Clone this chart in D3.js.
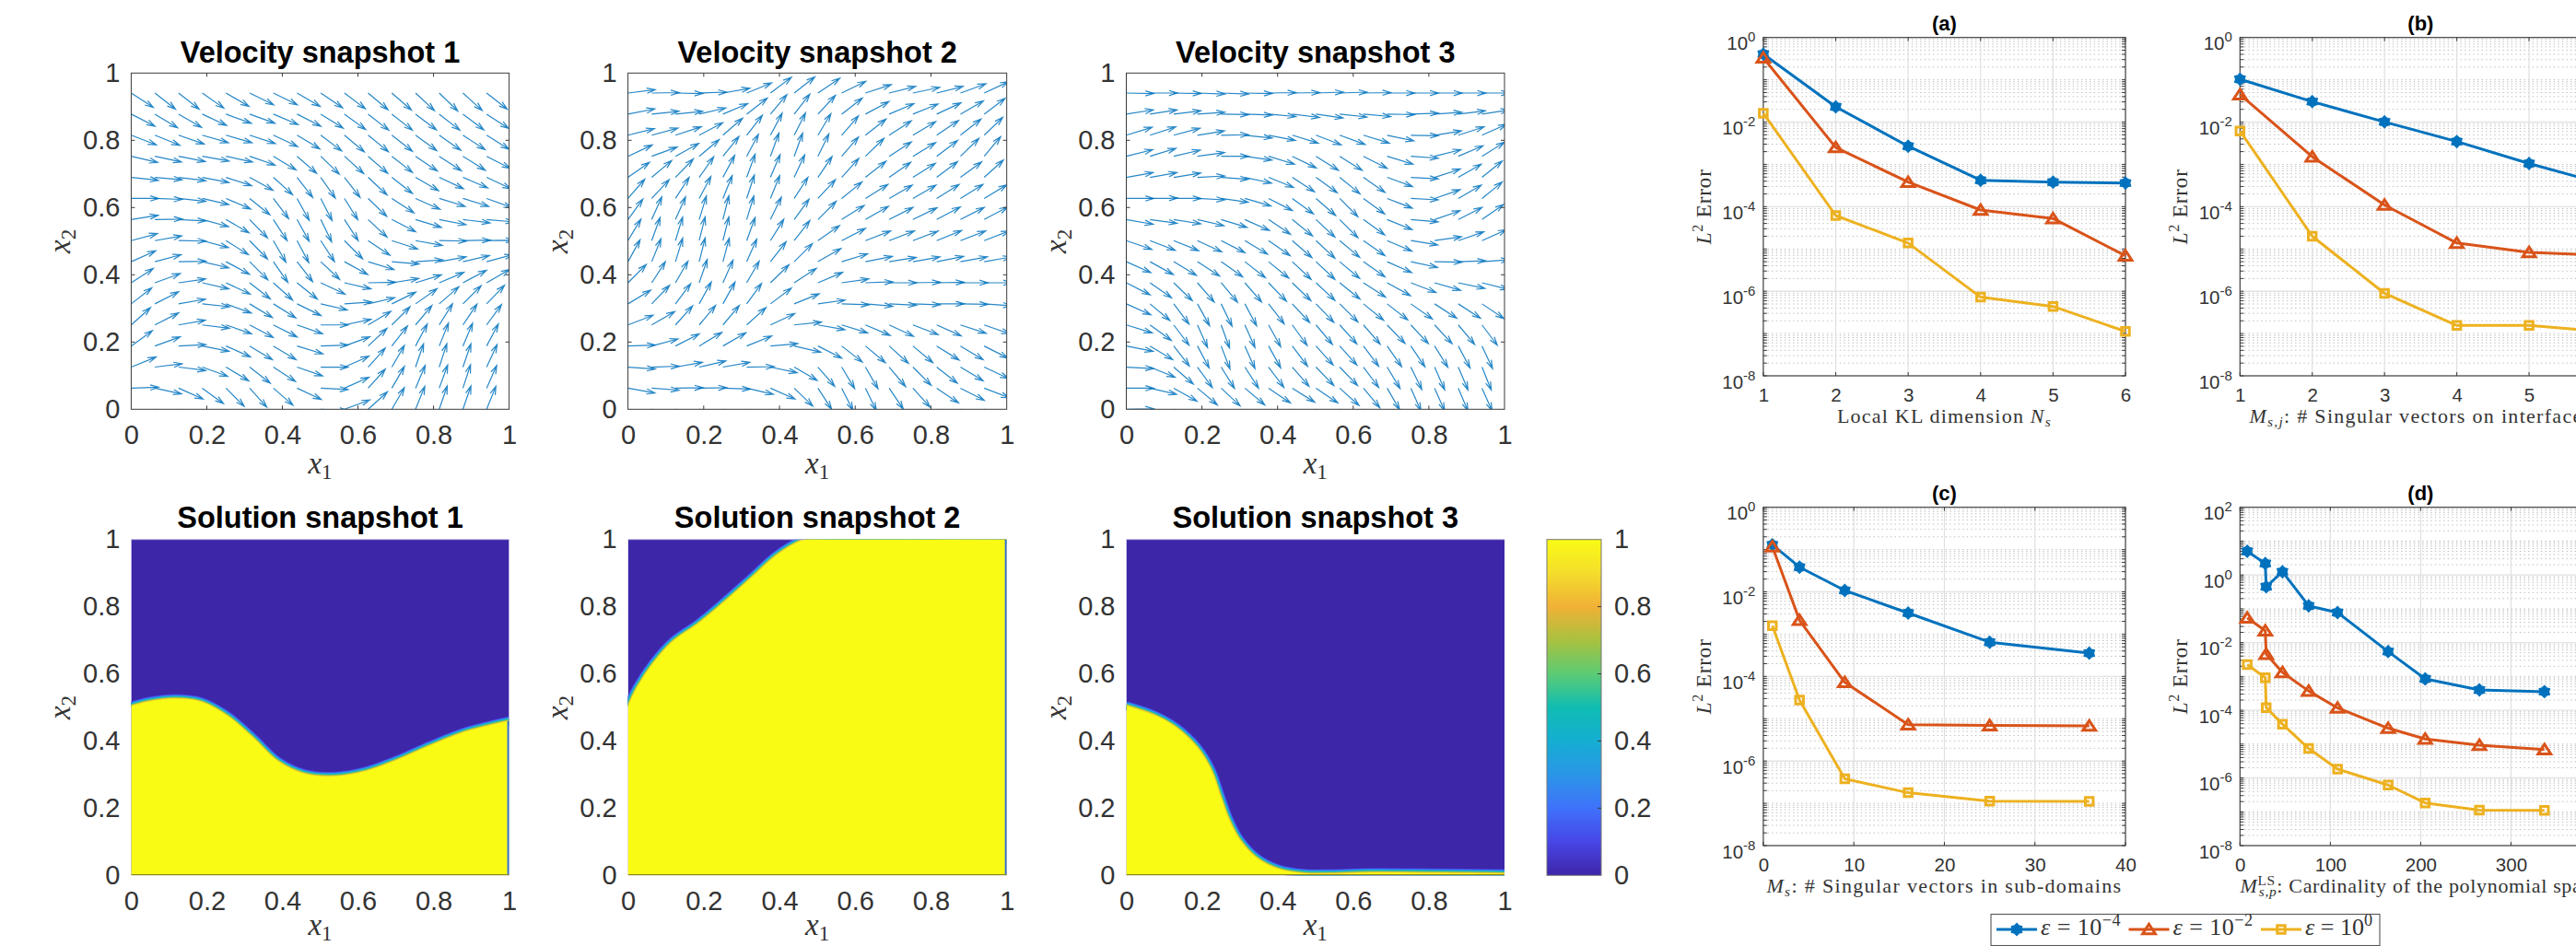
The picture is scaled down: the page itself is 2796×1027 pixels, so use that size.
<!DOCTYPE html>
<html><head><meta charset="utf-8">
<script src="https://cdn.jsdelivr.net/npm/d3@7"></script>
<style>html,body{margin:0;padding:0;background:#fff;overflow:hidden}svg{display:block}</style>
</head><body>
<script>
// ---------- Quiver data: arrow direction in degrees, rows from x2=15/16 down to x2=0
const velocity1Angles = [
[-33,-38,-38,-35,-30,-26,-26,-30,-34,-37,-40,-41,-43,-44,-42,-38],
[-27,-31,-30,-25,-20,-20,-23,-27,-32,-36,-38,-38,-37,-38,-37,-33],
[-21,-22,-19,-16,-16,-18,-25,-31,-37,-40,-39,-38,-36,-35,-33,-32],
[-13,-12,-11,-10,-12,-19,-31,-41,-44,-42,-41,-38,-34,-33,-32,-27],
[-6,-5,-7,-11,-18,-29,-42,-52,-55,-52,-43,-38,-30,-25,-23,-25],
[0,-2,-6,-13,-23,-39,-53,-61,-63,-58,-44,-33,-24,-17,-17,-20],
[9,1,-3,-15,-30,-46,-57,-61,-64,-57,-43,-27,-17,-11,-7,-5],
[15,10,-1,-15,-32,-46,-60,-62,-57,-45,-34,-18,-10,-1,1,1],
[24,15,1,-13,-28,-45,-55,-52,-43,-29,-17,-5,4,10,13,15],
[33,20,8,-13,-25,-38,-42,-39,-25,-13,1,9,17,23,28,30],
[38,27,10,-6,-20,-31,-32,-26,-13,4,13,26,35,41,45,46],
[42,27,10,-7,-19,-28,-27,-19,0,12,31,45,50,58,56,54],
[36,20,3,-11,-24,-31,-31,-17,2,20,43,52,62,68,67,62],
[22,7,-7,-20,-31,-38,-33,-19,0,24,48,60,71,72,71,65],
[2,-12,-24,-36,-45,-48,-41,-25,-3,24,48,60,67,70,72,66],
[-20,-30,-35,-45,-50,-50,-50,-40,-3,20,42,60,68,71,71,68]];
const velocity2Angles = [
[7,1,-1,2,10,22,37,38,34,26,18,14,12,14,20,25],
[11,6,6,13,23,38,50,52,47,38,28,23,22,25,30,37],
[14,15,18,28,41,52,62,63,59,49,38,33,31,34,38,44],
[25,20,29,40,51,62,70,70,64,49,44,33,31,37,44,50],
[35,40,46,55,62,70,67,65,56,48,38,35,32,37,36,42],
[49,47,57,62,68,72,68,57,47,39,32,30,30,32,32,31],
[54,66,66,73,76,73,64,54,45,32,30,27,26,28,27,28],
[59,70,73,76,76,70,58,52,35,27,21,21,21,22,21,21],
[61,68,73,76,75,66,52,45,30,17,11,9,10,11,10,10],
[45,57,60,71,66,60,44,33,23,8,2,0,1,1,0,0],
[31,46,53,61,61,54,37,22,8,-2,-5,-3,-2,0,-1,-4],
[21,30,48,50,50,42,25,6,-10,-17,-23,-25,-21,-24,-18,-19],
[2,15,27,31,30,22,5,-13,-27,-38,-40,-42,-40,-32,-31,-27],
[-4,2,10,13,10,1,-12,-30,-49,-59,-60,-50,-45,-38,-31,-25],
[-10,-4,1,1,-2,-13,-24,-44,-57,-63,-64,-56,-48,-34,-27,-21],
[-10,-10,-10,-10,-15,-30,-40,-50,-60,-65,-65,-60,-50,-40,-30,-20]];
const velocity3Angles = [
[-1,0,-1,-2,-2,-1,1,1,2,2,1,0,0,0,0,0],
[9,9,7,4,-1,-2,-5,-7,-8,-6,-5,-1,2,4,7,9],
[17,18,15,9,1,-6,-11,-17,-21,-20,-17,-12,-1,9,18,24],
[14,17,13,8,0,-8,-17,-26,-32,-32,-27,-17,-4,14,23,32],
[10,10,9,3,-4,-12,-22,-33,-36,-39,-35,-20,-3,18,30,39],
[0,1,0,-3,-8,-16,-27,-36,-41,-45,-36,-21,-3,19,30,39],
[-10,-8,-9,-13,-17,-24,-34,-39,-43,-45,-36,-22,-5,19,27,35],
[-19,-21,-22,-25,-27,-31,-35,-41,-43,-40,-35,-23,-9,8,19,24],
[-24,-29,-31,-33,-35,-38,-39,-43,-43,-40,-35,-24,-12,-1,2,4],
[-27,-35,-44,-49,-50,-49,-46,-44,-43,-39,-33,-29,-21,-16,-12,-14],
[-24,-40,-53,-61,-64,-62,-52,-47,-46,-45,-39,-38,-35,-33,-33,-34],
[-17,-36,-53,-66,-70,-66,-61,-54,-50,-48,-49,-46,-47,-47,-50,-53],
[-11,-31,-52,-62,-69,-66,-61,-53,-48,-48,-53,-55,-56,-58,-62,-65],
[-3,-22,-41,-54,-58,-57,-53,-49,-46,-46,-53,-59,-64,-66,-67,-68],
[0,-13,-29,-40,-43,-40,-34,-32,-34,-42,-50,-60,-66,-66,-67,-66],
[1,-10,-20,-30,-30,-30,-30,-25,-25,-30,-40,-50,-60,-65,-65,-65]];
const velocityPanels = [velocity1Angles, velocity2Angles, velocity3Angles];
const velocityTitles = ["Velocity snapshot 1","Velocity snapshot 2","Velocity snapshot 3"];

// ---------- Interface curves of the solution snapshots [x1, x2]
const solution1Front = [[0,.504],[.048,.518],[.116,.526],[.184,.517],[.253,.476],[.32,.412],[.389,.339],[.457,.303],[.54,.295],[.62,.31],[.7,.342],[.79,.386],[.88,.426],[1,.46]];
const solution2Front = [[0,.504],[.024,.559],[.067,.632],[.118,.696],[.186,.75],[.254,.814],[.323,.883],[.391,.952],[.45,.993],[.468,1],[1,1]];
const solution3Front = [[0,.505],[.076,.476],[.132,.44],[.188,.38],[.225,.312],[.248,.239],[.272,.165],[.3,.106],[.346,.051],[.402,.019],[.467,.006],[.541,.005],[.634,.008],[.82,.007],[1,.005]];
const solutionFronts = [solution1Front, solution2Front, solution3Front];
const solutionTitles = ["Solution snapshot 1","Solution snapshot 2","Solution snapshot 3"];

// ---------- Colour map
const parulaStops  = [0,.1,.2,.3,.4,.5,.6,.7,.8,.9,1];
const parulaColors = ["#3e26a8","#4746e6","#3f72fb","#2a96e6","#15aed2","#10bdb2","#5ccb74","#a9c13f","#f0b136","#f4dd2c","#f9fb15"];

// ---------- Error curves: log10 of L2 error
const xA = [1,2,3,4,5,6];
const aBlue=[-.392,-1.64,-2.57,-3.376,-3.42,-3.44], aRed=[-.48,-2.6,-3.42,-4.08,-4.28,-5.16], aYellow=[-1.79,-4.21,-4.86,-6.14,-6.36,-6.95];
const xB = [1,2,3,4,5,6];
const bBlue=[-.987,-1.517,-1.996,-2.46,-2.98,-3.45], bRed=[-1.35,-2.82,-3.96,-4.86,-5.08,-5.15], bYellow=[-2.21,-4.7,-6.05,-6.81,-6.81,-6.95];
const xC = [1,4,9,16,25,36];
const cBlue=[-.886,-1.416,-1.967,-2.5,-3.19,-3.45], cRed=[-.93,-2.67,-4.14,-5.14,-5.16,-5.17], cYellow=[-2.8,-4.56,-6.42,-6.75,-6.95,-6.955];
const xD = [8,28,29,47,76,108,164,205,265,337];
const dBlue=[.7,.34,-.35,.094,-.913,-1.11,-2.265,-3.07,-3.4,-3.45], dRed=[-1.27,-1.65,-2.34,-2.88,-3.43,-3.93,-4.53,-4.85,-5.03,-5.16], dYellow=[-2.65,-3.04,-3.92,-4.41,-5.13,-5.74,-6.21,-6.74,-6.95,-6.96];

const errorTitles=["(a)","(b)","(c)","(d)"];
const xTicksA=[1,2,3,4,5,6], xTicksC=[0,10,20,30,40], xTicksD=[0,100,200,300,400];
const unitTicks=[0,.2,.4,.6,.8,1];
const legendExponents=["−4","−2","0"];
const seriesColors=["#0072BD","#D95319","#EDB120"];

// ---------- Layout
const W=2796,H=1027;
const svg=d3.select("body").append("svg").attr("width",W).attr("height",H).attr("viewBox",`0 0 ${W} ${H}`);
const defs=svg.append("defs");
const SANS="'Liberation Sans',Arial,sans-serif", SERIF="'Liberation Serif','Times New Roman',serif";
const INK="#333333", AX="#3a3a3a";
let uid=0;

function mathText(t,parts,size){
  t.attr("font-family",SERIF).attr("font-size",size).attr("fill",INK);
  let base=0;
  parts.forEach(([s,style,dx])=>{
    const sup=style==="sup", sub=style&&style.startsWith("sub");
    const target= sup? -size*.38 : sub? size*.18 : 0;
    const ts=t.append("tspan").text(s)
      .attr("dy",target-base)
      .attr("font-size",(sup||sub)?size*.7:size)
      .attr("font-style",(style==="i"||style==="subi")?"italic":"normal");
    if(dx) ts.attr("dx",dx);
    base=target;
  });
}
function fitWidth(t,target){
  const n=t.text().length, len=t.node().getComputedTextLength();
  t.attr("letter-spacing",((target-len)/n).toFixed(3));
}
function styleAxis(g,size){
  g.selectAll(".domain").remove();
  g.selectAll(".tick line").attr("stroke",AX).attr("stroke-width",1);
  g.selectAll("text").attr("font-family",SANS).attr("font-size",size).attr("fill",INK);
}
function unitAxes(g,x,y){
  const f=d=>String(d);
  g.append("g").attr("transform",`translate(0,${y(0)})`)
    .call(d3.axisBottom(x).tickValues(unitTicks).tickFormat(f).tickSizeInner(0).tickSizeOuter(0).tickPadding(17)).call(a=>styleAxis(a,29));
  g.append("g").attr("transform",`translate(${x(0)},0)`)
    .call(d3.axisLeft(y).tickValues(unitTicks).tickFormat(f).tickSizeInner(0).tickSizeOuter(0).tickPadding(12)).call(a=>styleAxis(a,29));
}
function unitLabels(g,x,y,cx,yLabelX,xBase){
  mathText(g.append("text").attr("x",cx).attr("y",xBase).attr("text-anchor","middle"),[["x","i"],["1","sub"]],33);
  mathText(g.append("text").attr("text-anchor","middle").attr("transform",`translate(${yLabelX},${(y(0)+y(1))/2}) rotate(-90)`),[["x","i"],["2","sub"]],33);
}

// ---------- Velocity panels
const panelX=[[142.4,552.6],[681.6,1092.7],[1222.5,1633]];
const topY=[79.3,444.3], botY=[585.7,950.3];
const yLabelXs=[76,616,1157];
const rowStep=.0627, colStep=.0627, arrowLen=.0725;
velocityPanels.forEach((rows,p)=>{
  const x=d3.scaleLinear().domain([0,1]).range(panelX[p]);
  const y=d3.scaleLinear().domain([0,1]).range([topY[1],topY[0]]);
  const iw=panelX[p][1]-panelX[p][0], ih=topY[1]-topY[0];
  const g=svg.append("g");
  const id="clipv"+(uid++);
  defs.append("clipPath").attr("id",id).append("rect").attr("x",panelX[p][0]).attr("y",topY[0]).attr("width",iw).attr("height",ih);
  const cx=(panelX[p][0]+panelX[p][1])/2;
  const items=[];
  rows.forEach((row,ri)=>row.forEach((a,ci)=>items.push({x0:ci*colStep,y0:(rows.length-1-ri)*rowStep,a})));
  g.append("g").attr("clip-path",`url(#${id})`).selectAll("path").data(items).join("path")
    .attr("fill","none").attr("stroke","#0072BD").attr("stroke-width",1.2).attr("stroke-opacity",.85)
    .attr("d",d=>{
      const r=d.a*Math.PI/180;
      let ux=Math.cos(r)/iw, uy=Math.sin(r)/ih; const n=Math.hypot(ux,uy);
      ux*=arrowLen/n; uy*=arrowLen/n;
      const x0=x(d.x0),y0=y(d.y0),x1=x(d.x0+ux),y1=y(d.y0+uy);
      const bearing=Math.atan2(y0-y1,x0-x1), hl=9.5, sp=.3;
      const b=s=>[x1+hl*Math.cos(bearing+s),y1+hl*Math.sin(bearing+s)];
      const [ax,ay]=b(sp),[bx,by]=b(-sp);
      return `M${x0},${y0}L${x1},${y1}M${ax},${ay}L${x1},${y1}L${bx},${by}`;
    });
  g.append("rect").attr("x",panelX[p][0]).attr("y",topY[0]).attr("width",iw).attr("height",ih).attr("fill","none").attr("stroke",AX).attr("stroke-width",1);
  unitTicks.slice(1,-1).forEach(t=>{
    g.append("path").attr("stroke",AX).attr("d",`M${x(t)},${y(0)}v-4M${x(t)},${y(1)}v4M${x(0)},${y(t)}h4M${x(1)},${y(t)}h-4`);
  });
  unitAxes(g,x,y);
  g.append("text").attr("x",cx).attr("y",68).attr("text-anchor","middle").attr("font-family",SANS).attr("font-weight","bold").attr("font-size",32.5).attr("fill","#000").text(velocityTitles[p]);
  unitLabels(g,x,y,cx,yLabelXs[p],514);
});

// ---------- Solution panels
const parula=d3.scaleLinear().domain(parulaStops).range(parulaColors);
const edgeLayers=[[.08,10],[.2,8.6],[.32,7.1],[.45,5.6],[.58,4.1],[.72,2.8],[.86,1.4]];
const topLineEnd=[1,.468,1];
solutionFronts.forEach((front,p)=>{
  const x=d3.scaleLinear().domain([0,1]).range(panelX[p]);
  const y=d3.scaleLinear().domain([0,1]).range([botY[1],botY[0]]);
  const iw=panelX[p][1]-panelX[p][0], ih=botY[1]-botY[0];
  const g=svg.append("g");
  const id="clips"+(uid++);
  defs.append("clipPath").attr("id",id).append("rect").attr("x",panelX[p][0]).attr("y",botY[0]).attr("width",iw).attr("height",ih);
  const c=g.append("g").attr("clip-path",`url(#${id})`);
  c.append("rect").attr("x",panelX[p][0]).attr("y",botY[0]).attr("width",iw).attr("height",ih).attr("fill",parula(0));
  const curve=d3.curveCatmullRom.alpha(.5);
  const line=d3.line().x(d=>x(d[0])).y(d=>y(d[1])).curve(curve);
  const area=d3.area().x(d=>x(d[0])).y0(y(0)).y1(d=>y(d[1])).curve(curve);
  edgeLayers.forEach(([t,w])=>c.append("path").attr("d",line(front)).attr("fill","none").attr("stroke",parula(t)).attr("stroke-width",w));
  c.append("path").attr("d",area(front)).attr("fill",parula(1));
  if(p<2){
    const last=front[front.length-1][1];
    c.append("line").attr("x1",x(1)-1).attr("x2",x(1)-1).attr("y1",y(0)).attr("y2",y(last)).attr("stroke","#2f6fe8").attr("stroke-width",2);
  }
  c.append("line").attr("x1",x(0)).attr("x2",x(1)).attr("y1",y(0)-.5).attr("y2",y(0)-.5).attr("stroke","#8f8a14").attr("stroke-width",1.4);
  g.append("line").attr("x1",x(0)).attr("x2",x(topLineEnd[p])).attr("y1",y(1)).attr("y2",y(1)).attr("stroke","#b3acdf").attr("stroke-width",1);
  unitAxes(g,x,y);
  const cx=(panelX[p][0]+panelX[p][1])/2;
  g.append("text").attr("x",cx).attr("y",573).attr("text-anchor","middle").attr("font-family",SANS).attr("font-weight","bold").attr("font-size",32.5).attr("fill","#000").text(solutionTitles[p]);
  unitLabels(g,x,y,cx,yLabelXs[p],1015);
});

// ---------- Colour bar
(function(){
  const id="parulaGrad";
  const lg=defs.append("linearGradient").attr("id",id).attr("x1",0).attr("x2",0).attr("y1",1).attr("y2",0);
  parulaStops.forEach((s,i)=>lg.append("stop").attr("offset",s).attr("stop-color",parulaColors[i]));
  const y=d3.scaleLinear().domain([0,1]).range([botY[1],botY[0]]);
  const x0=1679,x1=1738;
  const g=svg.append("g");
  g.append("rect").attr("x",x0).attr("y",botY[0]).attr("width",x1-x0).attr("height",botY[1]-botY[0]).attr("fill",`url(#${id})`).attr("stroke","#777").attr("stroke-width",1);
  const a=g.append("g").attr("transform",`translate(${x1},0)`)
    .call(d3.axisRight(y).tickValues(unitTicks).tickFormat(d=>String(d)).tickSizeInner(0).tickSizeOuter(0).tickPadding(14));
  styleAxis(a,29);
  unitTicks.slice(1,-1).forEach(t=>g.append("line").attr("x1",x1-4).attr("x2",x1).attr("y1",y(t)).attr("y2",y(t)).attr("stroke",AX));
})();

// ---------- Error panels
const hexagram={draw(ctx,size){
  const R=Math.sqrt(size), r=R*.72;
  for(let i=0;i<12;i++){
    const a=-Math.PI/2+i*Math.PI/6, q=i%2?r:R;
    const px=q*Math.cos(a), py=q*Math.sin(a);
    i?ctx.lineTo(px,py):ctx.moveTo(px,py);
  }
  ctx.closePath();
}};
const triangle={draw(ctx,size){
  const s=Math.sqrt(size);
  ctx.moveTo(0,-s*.72); ctx.lineTo(s*.86,s*.6); ctx.lineTo(-s*.86,s*.6); ctx.closePath();
}};
const markerPath=[d3.symbol().type(hexagram).size(42)(),d3.symbol().type(triangle).size(64)(),d3.symbol().type(d3.symbolSquare).size(72)()];
function marker(sel,k){
  sel.attr("d",markerPath[k]);
  if(k===0) sel.attr("fill",seriesColors[0]).attr("stroke",seriesColors[0]).attr("stroke-width",1.4);
  else sel.attr("fill","none").attr("stroke",seriesColors[k]).attr("stroke-width",3);
}
const errorPanels=[
 {x:[1913.9,2307],y:[40.7,408],dom:[1,6],ticks:xTicksA,top:0,xv:xA,s:[aBlue,aRed,aYellow],lab:[["Local KL dimension ",""],["N","i"],["s","subi"]],w:233,ylx:1857},
 {x:[2431.3,2823.5],y:[40.7,408],dom:[1,6],ticks:xTicksA,top:0,xv:xB,s:[bBlue,bRed,bYellow],lab:[["M","i"],["s,j","subi"],[": # Singular vectors on interfaces",""]],w:372,ylx:2374},
 {x:[1913.9,2307],y:[550.7,918],dom:[0,40],ticks:xTicksC,top:0,xv:xC,s:[cBlue,cRed,cYellow],lab:[["M","i"],["s","subi"],[": # Singular vectors in sub-domains",""]],w:386,ylx:1857},
 {x:[2431.3,2823.5],y:[550.7,918],dom:[0,400],ticks:xTicksD,top:2,xv:xD,s:[dBlue,dRed,dYellow],lab:[["M","i"],["LS","sup"],["s,p","subi",-18],[": Cardinality of the polynomial space",""]],w:410,ylx:2374}
];
errorPanels.forEach((P,idx)=>{
  const x=d3.scaleLinear().domain(P.dom).range(P.x);
  const y=d3.scaleLog().domain([1e-8,Math.pow(10,P.top)]).range([P.y[1],P.y[0]]);
  const g=svg.append("g");
  const iw=P.x[1]-P.x[0], ih=P.y[1]-P.y[0];
  const decades=d3.range(-8,P.top);
  const minors=[]; decades.forEach(d=>d3.range(2,10).forEach(m=>minors.push(m*Math.pow(10,d))));
  const majors=d3.range(-8,P.top+1,2).map(d=>Math.pow(10,d));
  const allDec=d3.range(-8,P.top+1).map(d=>Math.pow(10,d));
  g.append("g").selectAll("line").data(minors.concat(allDec.filter(v=>!majors.includes(v)))).join("line")
    .attr("x1",P.x[0]).attr("x2",P.x[1]).attr("y1",d=>y(d)).attr("y2",d=>y(d))
    .attr("stroke","#bdbdbd").attr("stroke-width",1).attr("stroke-dasharray","1.4 3.2");
  g.append("g").selectAll("line").data(majors).join("line")
    .attr("x1",P.x[0]).attr("x2",P.x[1]).attr("y1",d=>y(d)).attr("y2",d=>y(d))
    .attr("stroke","#e2e2e2").attr("stroke-width",1.4);
  g.append("g").selectAll("line").data(P.ticks).join("line")
    .attr("x1",d=>x(d)).attr("x2",d=>x(d)).attr("y1",P.y[0]).attr("y2",P.y[1])
    .attr("stroke","#e0e0e0").attr("stroke-width",1.2);
  g.append("rect").attr("x",P.x[0]).attr("y",P.y[0]).attr("width",iw).attr("height",ih).attr("fill","none").attr("stroke",AX).attr("stroke-width",1.1);
  g.selectAll(".xt").data(P.ticks).join("path").attr("stroke",AX).attr("d",d=>`M${x(d)},${P.y[1]}v-4M${x(d)},${P.y[0]}v4`);
  g.selectAll(".yt").data(minors.concat(allDec)).join("path").attr("stroke",AX)
    .attr("d",d=>`M${P.x[0]},${y(d)}h4M${P.x[1]},${y(d)}h-4`);
  const ax=g.append("g").attr("transform",`translate(0,${P.y[1]})`)
    .call(d3.axisBottom(x).tickValues(P.ticks).tickFormat(d=>String(d)).tickSizeInner(0).tickSizeOuter(0).tickPadding(13));
  styleAxis(ax,20.5);
  const ay=g.append("g").attr("transform",`translate(${P.x[0]},0)`)
    .call(d3.axisLeft(y).tickValues(majors).tickFormat(()=>"").tickSizeInner(0).tickSizeOuter(0).tickPadding(9));
  styleAxis(ay,20.5);
  ay.selectAll(".tick text").each(function(d){
    const t=d3.select(this).attr("dy",13).attr("text-anchor","end").attr("x",-8.5);
    t.append("tspan").text("10");
    t.append("tspan").text(String(Math.round(Math.log10(d)))).attr("dy",-9).attr("font-size",15);
  });
  const line=d3.line().x(d=>x(d[0])).y(d=>y(Math.pow(10,d[1])));
  P.s.forEach((vals,k)=>{
    const pts=P.xv.map((v,i)=>[v,vals[i]]);
    g.append("path").attr("d",line(pts)).attr("fill","none").attr("stroke",seriesColors[k]).attr("stroke-width",3).attr("stroke-linejoin","round");
  });
  P.s.forEach((vals,k)=>{
    const pts=P.xv.map((v,i)=>[v,vals[i]]);
    g.append("g").selectAll("path").data(pts).join("path")
      .attr("transform",d=>`translate(${x(d[0])},${y(Math.pow(10,d[1]))})`).call(s=>marker(s,k));
  });
  const cx=(P.x[0]+P.x[1])/2;
  g.append("text").attr("x",cx).attr("y",P.y[0]-7.5).attr("text-anchor","middle").attr("font-family",SANS).attr("font-weight","bold").attr("font-size",22).attr("fill","#000").text(errorTitles[idx]);
  const xl=g.append("text").attr("x",cx).attr("y",P.y[1]+51).attr("text-anchor","middle");
  mathText(xl,P.lab,22); fitWidth(xl,P.w);
  const yl=g.append("text").attr("text-anchor","middle").attr("transform",`translate(${P.ylx},${(P.y[0]+P.y[1])/2}) rotate(-90)`);
  mathText(yl,[["L","i"],["2","sup"],[" Error",""]],23); fitWidth(yl,82);
});

// ---------- Legend
(function(){
  const g=svg.append("g");
  const lineX=d3.scaleLinear().domain([0,2]).range([2167,2454]);
  const midY=1009;
  g.append("rect").attr("x",2161).attr("y",992.5).attr("width",422).attr("height",34).attr("fill","#fff").attr("stroke","#555").attr("stroke-width",1.1);
  legendExponents.forEach((ex,k)=>{
    const x0=lineX(k);
    g.append("line").attr("x1",x0).attr("x2",x0+44).attr("y1",midY).attr("y2",midY).attr("stroke",seriesColors[k]).attr("stroke-width",3);
    g.append("path").attr("transform",`translate(${x0+22},${midY})`).call(s=>marker(s,k));
    const t=g.append("text").attr("x",x0+48).attr("y",1015);
    mathText(t,[["ε","i"],[" = 10",""],[ex,"sup"]],26);
    fitWidth(t,k===2?73:87);
  });
})();
</script>
</body></html>
